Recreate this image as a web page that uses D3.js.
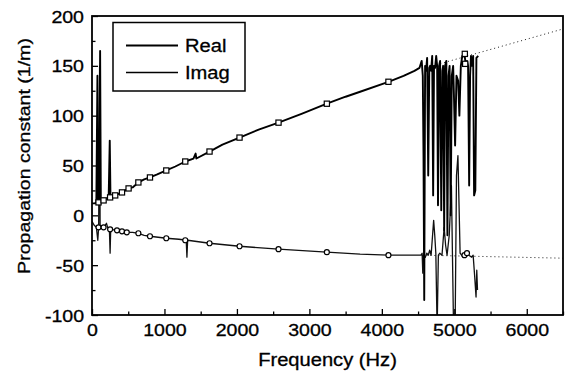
<!DOCTYPE html>
<html>
<head>
<meta charset="utf-8">
<script src="https://cdn.jsdelivr.net/npm/d3@7"></script>
<style>
  body { margin: 0; background: #fff; }
  text { font-family: "Liberation Sans", Arial, sans-serif; fill: #000; stroke: #000; stroke-width: 0.3px; }
</style>
</head>
<body>
<div id="chart"></div>
<script>
// values
var realFreq = [0, 40, 60, 75, 85, 100, 112, 122, 160, 230, 245, 255, 320, 414, 505, 560, 640, 720, 800, 900,
  1025, 1150, 1287, 1400, 1430, 1440, 1622, 1800, 2036, 2300, 2574, 2900, 3241, 3500, 3700, 4091, 4300, 4450, 4520, 4550,
  4565, 4575, 4585, 4597, 4610, 4625, 4640, 4655, 4666, 4680, 4695, 4708, 4720, 4735, 4750, 4763, 4775, 4790, 4804, 4820,
  4835, 4846, 4860, 4873, 4890, 4905, 4920, 4935, 4950, 4965, 4984, 4995, 5011, 5030, 5053, 5070, 5090, 5110, 5140, 5160,
  5175, 5190, 5205, 5218, 5230, 5246, 5260, 5273, 5290, 5305, 5330];
var realVal = [12, 12, 13, 140, 12, 13, 165, 15, 15, 18, 75, 19, 20, 23, 27, 28, 33, 36, 38, 41,
  45, 49, 54, 57, 62, 57, 64, 71, 78, 86, 93, 102, 112, 119, 124, 134, 140, 145, 148, 155,
  140, 60, -85, 150, 145, 158, 40, 148, 150, 145, 160, 20, 150, 148, 160, 150, 10, 150, 155, 5,
  145, 150, -15, 150, 155, -20, 140, 150, 0, 140, 150, 120, 70, 140, 135, 100, 150, 160, 162, 150,
  155, 150, 30, 140, 160, 150, 160, 20, 25, 158, 160];

var imagFreq = [0, 30, 60, 80, 92, 105, 112, 160, 200, 215, 240, 250, 258, 345, 414, 480, 560, 640, 720, 800,
  1025, 1200, 1300, 1310, 1320, 1622, 2036, 2574, 3241, 3700, 4091, 4500, 4540, 4556, 4565, 4575, 4600, 4620, 4640, 4660,
  4680, 4700, 4715, 4730, 4745, 4763, 4780, 4800, 4830, 4860, 4880, 4900, 4930, 4960, 4990, 5011, 5030, 5050, 5080, 5100,
  5121, 5140, 5160, 5180, 5200, 5240, 5260, 5280, 5300, 5310, 5320];
var imagVal = [-6, -10, -12, -25, -12, 150, -12, -12, -8, -12, -14, -38, -14, -15, -16, -17, -17, -18, -20, -21,
  -23, -24, -25, -42, -25, -28, -31, -34, -37, -39, -40, -40, -40, -38, -58, -40, -42, -38, -40, -35,
  -40, -20, -5, -20, -38, -115, -40, -38, -40, -12, -30, -40, -20, 30, -115, -115, 40, 60, -38, -40,
  -42, -38, -40, -36, -40, -42, -40, -60, -82, -55, -75];

var realMarkFreq = [90, 160, 250, 320, 414, 505, 640, 800, 1025, 1287, 1622, 2036, 2574, 3241, 4091, 5145, 5150];
var realMarkVal = [13, 15, 18, 20, 23, 27, 33, 38, 45, 54, 64, 78, 93, 112, 134, 162, 152];
var imagMarkFreq = [90, 160, 250, 345, 414, 480, 640, 800, 1025, 1287, 1622, 2036, 2574, 3241, 4091, 5140, 5175];
var imagMarkVal = [-12, -12, -14, -15, -16, -17, -18, -21, -23, -25, -28, -31, -34, -37, -40, -40, -38];

// dotted extrapolations
var realFitFreq = [4700, 6500];
var realFitVal = [150, 187];
var imagFitFreq = [4560, 6500];
var imagFitVal = [-40, -43];

var xTicks = d3.range(0, 6501, 500);
var yTicks = d3.range(-100, 201, 25);

var width = 572, height = 379;
var padL = 92, padR = 563, padT = 16, padB = 315;
var stretch = 1.15;

var svg = d3.select('#chart').append('svg')
  .attr('width', width)
  .attr('height', height);

var x = d3.scaleLinear().domain([0, 6500]).range([padL, padR]);
var y = d3.scaleLinear().domain([-100, 200]).range([padB, padT]);

svg.append('clipPath').attr('id', 'clip')
  .append('rect')
  .attr('x', padL).attr('y', padT)
  .attr('width', padR - padL).attr('height', padB - padT);

var plot = svg.append('g').attr('clip-path', 'url(#clip)');

var line = d3.line()
  .x(function(d) { return x(d[0]); })
  .y(function(d) { return y(d[1]); });

function pairs(a, b) { return a.map(function(v, i) { return [v, b[i]]; }); }

plot.append('path')
  .datum(pairs(realFitFreq, realFitVal))
  .attr('d', line)
  .attr('fill', 'none').attr('stroke', '#000')
  .attr('stroke-width', 0.9).attr('stroke-dasharray', '1,3');

plot.append('path')
  .datum(pairs(imagFitFreq, imagFitVal))
  .attr('d', line)
  .attr('fill', 'none').attr('stroke', '#000')
  .attr('stroke-width', 0.9).attr('stroke-dasharray', '1,3');

plot.append('path')
  .datum(pairs(imagFreq, imagVal))
  .attr('d', line)
  .attr('fill', 'none').attr('stroke', '#111')
  .attr('stroke-width', 1.3).attr('stroke-linejoin', 'round');

plot.append('path')
  .datum(pairs(realFreq, realVal))
  .attr('d', line)
  .attr('fill', 'none').attr('stroke', '#000')
  .attr('stroke-width', 1.9).attr('stroke-linejoin', 'round');

plot.selectAll('rect.mk')
  .data(pairs(realMarkFreq, realMarkVal))
  .enter().append('rect')
  .attr('class', 'mk')
  .attr('x', function(d) { return x(d[0]) - 2.6; })
  .attr('y', function(d) { return y(d[1]) - 2.6; })
  .attr('width', 5.2).attr('height', 5.2)
  .attr('fill', '#fff').attr('stroke', '#000').attr('stroke-width', 1.2);

plot.selectAll('circle.mk')
  .data(pairs(imagMarkFreq, imagMarkVal))
  .enter().append('circle')
  .attr('class', 'mk')
  .attr('cx', function(d) { return x(d[0]); })
  .attr('cy', function(d) { return y(d[1]); })
  .attr('r', 2.5)
  .attr('fill', '#fff').attr('stroke', '#000').attr('stroke-width', 1.2);

// axes, ticks pointing inward
var xAxis = svg.append('g')
  .attr('transform', 'translate(0,' + padB + ')')
  .call(d3.axisBottom(x).tickValues(xTicks).tickSize(-6).tickFormat(function(d) {
    return d % 1000 === 0 ? d : '';
  }));
xAxis.selectAll('.tick line').filter(function(d) { return d % 1000 !== 0; }).attr('y2', -3.5);

var yAxis = svg.append('g')
  .attr('transform', 'translate(' + padL + ',0)')
  .call(d3.axisLeft(y).tickValues(yTicks).tickSize(-6).tickFormat(function(d) {
    return d % 50 === 0 ? d : '';
  }));
yAxis.selectAll('.tick line').filter(function(d) { return d % 50 !== 0; }).attr('x2', 3.5);

svg.selectAll('.domain').remove();
svg.selectAll('.tick line').attr('stroke', '#000').attr('stroke-width', 1.3);

xAxis.selectAll('.tick text')
  .attr('y', 9).attr('dy', '0.71em')
  .style('font-size', '17px');
yAxis.selectAll('.tick text')
  .attr('x', -8).attr('dy', '0.36em')
  .style('font-size', '17px');

svg.append('rect')
  .attr('x', padL).attr('y', padT)
  .attr('width', padR - padL).attr('height', padB - padT)
  .attr('fill', 'none').attr('stroke', '#000').attr('stroke-width', 1.8);

svg.append('text')
  .attr('x', (padL + padR) / 2).attr('y', 366)
  .attr('text-anchor', 'middle')
  .style('font-size', '17.5px')
  .text('Frequency (Hz)');

svg.append('text')
  .attr('transform', 'translate(30,156) rotate(-90)')
  .attr('text-anchor', 'middle')
  .style('font-size', '17px')
  .text('Propagation constant (1/m)');

// legend
var legend = svg.append('g');
legend.append('rect')
  .attr('x', 113).attr('y', 22.5)
  .attr('width', 132).attr('height', 68.5)
  .attr('fill', '#fff').attr('stroke', '#000').attr('stroke-width', 1.5);

var legendNames = ['Real', 'Imag'];
var legendWidths = [1.9, 1.3];
legendNames.forEach(function(name, i) {
  var ly = 45.5 + i * 27;
  legend.append('line')
    .attr('x1', 126).attr('x2', 178)
    .attr('y1', ly).attr('y2', ly)
    .attr('stroke', '#000').attr('stroke-width', legendWidths[i]);
  legend.append('text')
    .attr('x', 185).attr('y', ly + 6)
    .style('font-size', '17.5px')
    .text(name);
});

// widen the glyphs to match the original lettering
svg.selectAll('text').each(function() {
  var t = d3.select(this);
  if (!t.text()) return;
  var w = this.getComputedTextLength();
  t.attr('textLength', w * stretch).attr('lengthAdjust', 'spacingAndGlyphs');
});
</script>
</body>
</html>
